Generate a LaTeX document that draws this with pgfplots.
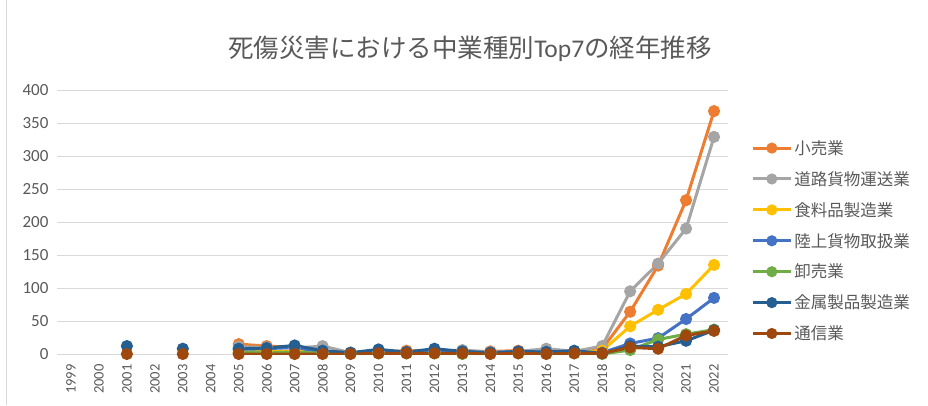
\documentclass[border=0pt]{standalone}
\usepackage{pgfplots}
\pgfplotsset{compat=1.18}
\usepackage{pgfplotstable}
\usepackage{fontspec}
\setmainfont{Carlito}
\newfontfamily\jp{Noto Sans CJK JP}
\definecolor{cOr}{HTML}{ED7D31}
\definecolor{cGr}{HTML}{A5A5A5}
\definecolor{cYe}{HTML}{FFC000}
\definecolor{cBl}{HTML}{4472C4}
\definecolor{cGn}{HTML}{70AD47}
\definecolor{cDb}{HTML}{255E91}
\definecolor{cBr}{HTML}{9E480E}
\definecolor{txt}{HTML}{595959}
\definecolor{grd}{HTML}{D9D9D9}
\pgfplotstableread{
x  or  gr  ye  bl  gn  db  br
0  nan nan nan nan nan nan nan
1  nan nan nan nan nan nan nan
2  nan nan nan nan nan 12  0
3  nan nan nan nan nan nan nan
4  nan nan nan nan nan 8   0
5  nan nan nan nan nan nan nan
6  15  11  3   7   2   8   0
7  12  10  4   8   2   9   0
8  10  9   4   10  3   13  0
9  4   12  2   3   1   5   0
10 2   2   1   1   1   2   0
11 3   3   2   3   1   7   1
12 5   3   2   2   1   3   1
13 4   4   2   4   1   8   1
14 4   6   1   3   0   4   1
15 4   3   1   2   1   2   0
16 5   4   2   3   1   4   1
17 3   8   2   3   1   3   0
18 3   4   2   3   1   5   1
19 8   12  5   2   0   1   1
20 64  95  42  16  6   12  10
21 134 137 67  24  22  11  8
22 233 190 91  53  30  20  28
23 368 329 135 85  37  36  35
}\data
\begin{document}
\begin{tikzpicture}[x=1pt,y=1pt]
\path[use as bounding box] (0,0) rectangle (928,405);
\draw[grd] (6,0) -- (6,405);
\node[text=txt,font=\fontsize{25.5}{30}\selectfont] at (470,356) {\jp 死傷災害における中業種別{\rmfamily Top7}の経年推移};
\begin{axis}[
  at={(57pt,51pt)}, anchor=south west,
  scale only axis, width=671pt, height=264pt,
  xmin=-0.5, xmax=23.5, ymin=0, ymax=400,
  unbounded coords=jump,
  axis line style={draw=none},
  axis x line*=bottom,
  xtick={0,...,23},
  xticklabels={1999,2000,2001,2002,2003,2004,2005,2006,2007,2008,2009,2010,2011,2012,2013,2014,2015,2016,2017,2018,2019,2020,2021,2022},
  x tick label style={rotate=90, anchor=east, font=\fontsize{14.5}{16}\selectfont, text=txt, xshift=-7pt},
  ytick={0,50,...,400},
  y tick label style={font=\fontsize{17}{19}\selectfont, text=txt, xshift=-5pt},
  /pgf/number format/assume math mode=true,
  major tick length=0pt,
  ymajorgrids, grid style={grd, line width=1pt},
  every axis plot/.append style={line width=3pt, mark=*, mark size=4.5pt},
  legend style={at={(1.03,0.825)}, anchor=north west, draw=none, fill=none,
    font=\fontsize{16.5}{19}\selectfont\jp, text=txt, row sep=11.5pt,
    /tikz/every even column/.append style={column sep=2pt}},
  legend cell align=left,
  legend image code/.code={\draw[#1, mark repeat=2, mark phase=2, line width=3pt, mark size=4pt] plot coordinates {(0pt,0pt) (19pt,0pt) (38pt,0pt)};},
]
\addplot[cOr] table[x=x,y=or]{\data}; \addlegendentry{小売業}
\addplot[cGr] table[x=x,y=gr]{\data}; \addlegendentry{道路貨物運送業}
\addplot[cYe] table[x=x,y=ye]{\data}; \addlegendentry{食料品製造業}
\addplot[cBl] table[x=x,y=bl]{\data}; \addlegendentry{陸上貨物取扱業}
\addplot[cGn] table[x=x,y=gn]{\data}; \addlegendentry{卸売業}
\addplot[cDb] table[x=x,y=db]{\data}; \addlegendentry{金属製品製造業}
\addplot[cBr] table[x=x,y=br]{\data}; \addlegendentry{通信業}
\end{axis}
\end{tikzpicture}
\end{document}
